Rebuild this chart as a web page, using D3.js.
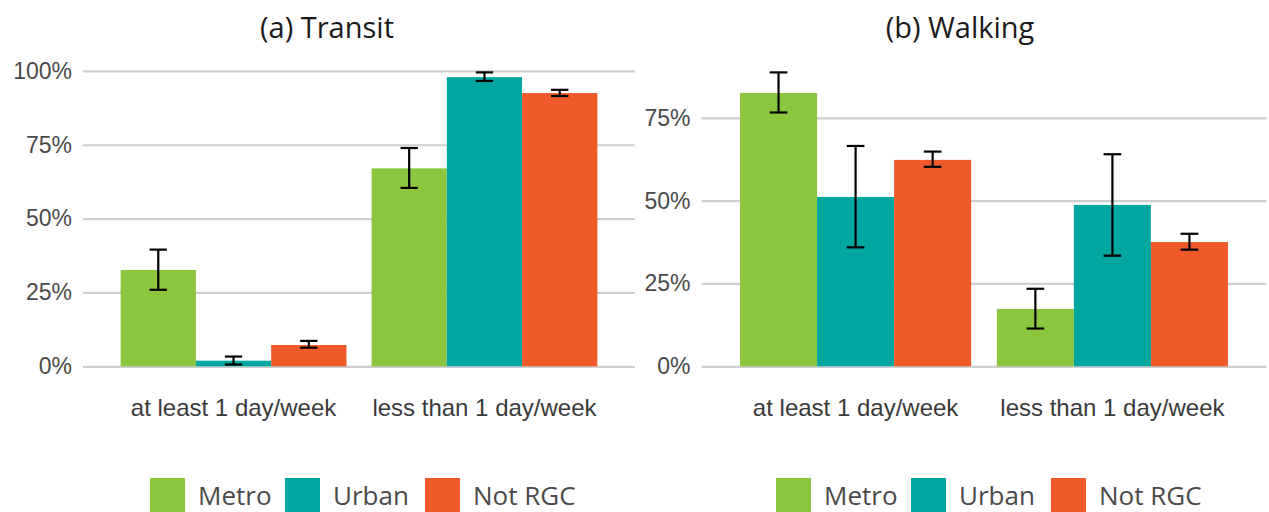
<!DOCTYPE html>
<html>
<head>
<meta charset="utf-8">
<script src="https://cdn.jsdelivr.net/npm/d3@7"></script>
<style>
  html, body { margin: 0; padding: 0; background: #fff; }
  svg { display: block; }
</style>
</head>
<body>
<svg id="chart" width="1269" height="512"></svg>
<script>
// Share of trips by frequency, by regional growth center type
const categories = ["at least 1 day/week", "less than 1 day/week"];
const seriesNames = ["Metro", "Urban", "Not RGC"];
const seriesColors = ["#8CC63F", "#00A7A0", "#F05A2A"];

// Transit: values and margin-of-error bounds (percent), one row per category
const transitValues = [[32.6, 1.9, 7.2], [67.0, 97.9, 92.5]];
const transitLower  = [[25.9, 0.6, 6.3], [60.4, 96.6, 91.5]];
const transitUpper  = [[39.5, 3.3, 8.6], [73.9, 99.5, 93.6]];

// Walking
const walkingValues = [[82.5, 51.1, 62.3], [17.3, 48.7, 37.5]];
const walkingLower  = [[76.6, 35.9, 60.2], [11.4, 33.4, 35.2]];
const walkingUpper  = [[88.7, 66.5, 64.8], [23.4, 64.0, 40.0]];

const transitTicks = [0, 25, 50, 75, 100];
const walkingTicks = [0, 25, 50, 75];

const svg = d3.select("#chart");

function panel(opts) {
  const g = svg.append("g");
  const { left, right, top, bottom, title, titleX, values, lower, upper, ticks, legendX } = opts;

  const maxVal = d3.max(upper.flat());
  const pad = maxVal * 0.05;
  const y = d3.scaleLinear().domain([-pad, maxVal + pad]).range([bottom, top]);

  const x0 = d3.scaleBand().domain(categories).range([left, right])
    .paddingInner(0.1).paddingOuter(0.15);
  const x1 = d3.scaleBand().domain(seriesNames).range([0, x0.bandwidth()]).padding(0);

  // Gridlines + y axis labels
  const yAxis = d3.axisLeft(y).tickValues(ticks)
    .tickSize(-(right - left)).tickPadding(11)
    .tickFormat(d => d + "%");
  const ya = g.append("g").attr("transform", `translate(${left},0)`).call(yAxis);
  ya.select(".domain").remove();
  ya.selectAll(".tick line").attr("stroke", "#cfcfcf").attr("stroke-width", 2.2);
  ya.selectAll(".tick text")
    .attr("fill", "#4a4a4a")
    .style("font-family", "'Liberation Sans', Arial, sans-serif")
    .style("font-size", "23px");

  // x axis category labels
  const xAxis = d3.axisBottom(x0).tickSize(0).tickPadding(0);
  const xa = g.append("g").attr("transform", `translate(0,${bottom + 18})`).call(xAxis);
  xa.select(".domain").remove();
  xa.selectAll(".tick text")
    .attr("fill", "#3a3a3a")
    .attr("dy", "0.71em")
    .style("font-family", "'Liberation Sans', Arial, sans-serif")
    .style("font-size", "24px");

  // Bars
  const rows = [];
  categories.forEach((c, i) => seriesNames.forEach((s, j) => {
    rows.push({ cat: c, series: s, j, v: values[i][j], lo: lower[i][j], hi: upper[i][j] });
  }));

  const bars = g.append("g");
  bars.selectAll("rect").data(rows).join("rect")
    .attr("x", d => x0(d.cat) + x1(d.series))
    .attr("width", x1.bandwidth())
    .attr("y", d => y(d.v))
    .attr("height", d => y(0) - y(d.v))
    .attr("fill", d => seriesColors[d.j]);

  // Error bars
  const capHalf = x1.bandwidth() * 0.115;
  const eb = g.append("g").attr("stroke", "#000").attr("stroke-width", 2.2).attr("fill", "none");
  rows.forEach(d => {
    const cx = x0(d.cat) + x1(d.series) + x1.bandwidth() / 2;
    eb.append("line").attr("x1", cx).attr("x2", cx).attr("y1", y(d.lo)).attr("y2", y(d.hi));
    eb.append("line").attr("x1", cx - capHalf).attr("x2", cx + capHalf).attr("y1", y(d.hi)).attr("y2", y(d.hi));
    eb.append("line").attr("x1", cx - capHalf).attr("x2", cx + capHalf).attr("y1", y(d.lo)).attr("y2", y(d.lo));
  });

  // Title
  g.append("text").attr("x", titleX).attr("y", 38)
    .attr("text-anchor", "middle")
    .attr("fill", "#1a1a1a")
    .style("font-family", "'Open Sans', sans-serif")
    .style("font-size", "29px")
    .text(title);

  // Legend
  const legend = g.append("g").attr("transform", `translate(${legendX},478)`);
  const offsets = [0, 135, 275];
  seriesNames.forEach((s, j) => {
    const item = legend.append("g").attr("transform", `translate(${offsets[j]},0)`);
    item.append("rect").attr("width", 35).attr("height", 34).attr("fill", seriesColors[j]);
    item.append("text").attr("x", 48).attr("y", 27)
      .attr("fill", "#4a4a4a")
      .style("font-family", "'Open Sans', sans-serif")
      .style("font-size", "26px")
      .text(s);
  });
}

panel({
  left: 83, right: 635, top: 57.7, bottom: 381,
  title: "(a) Transit", titleX: 327,
  values: transitValues, lower: transitLower, upper: transitUpper,
  ticks: transitTicks, legendX: 150
});

panel({
  left: 701.5, right: 1266.5, top: 57.7, bottom: 381,
  title: "(b) Walking", titleX: 960,
  values: walkingValues, lower: walkingLower, upper: walkingUpper,
  ticks: walkingTicks, legendX: 776
});
</script>
</body>
</html>
